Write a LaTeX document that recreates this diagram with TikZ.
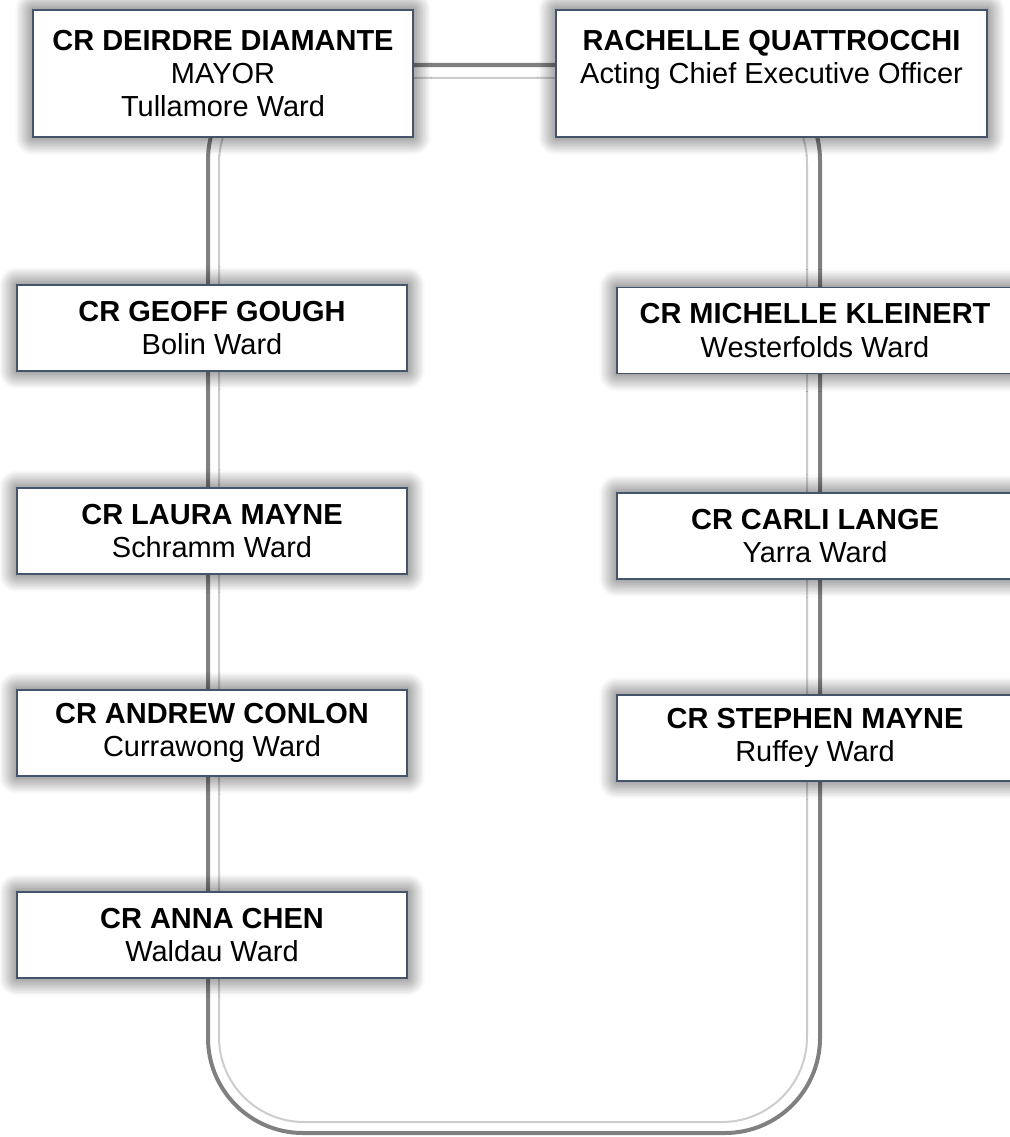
\documentclass[tikz,border=0pt]{standalone}
\usepackage{fontspec}
\setmainfont{Liberation Sans}
\usetikzlibrary{shadows.blur}
\definecolor{boxline}{RGB}{68,84,106}
\definecolor{tubedark}{RGB}{128,128,128}
\definecolor{tubelight}{RGB}{205,205,205}
\tikzset{
    leadnode/.style = {rectangle, draw=boxline, line width=0.035cm, fill=white, align=center, inner sep=0, minimum height=3.175cm, font=\fontsize{20.6}{23.6}\selectfont, blur shadow={shadow xshift=0pt, shadow yshift=0pt, shadow blur radius=0.45cm, shadow opacity=75, shadow blur steps=12}},
    wardnodel/.style = {leadnode, minimum width=9.75cm, minimum height=2.15cm},
    wardnoder/.style = {leadnode, minimum width=9.9cm, minimum height=2.15cm},
    tubeo/.style = {draw=tubedark, line width=0.1cm, rounded corners=2.375cm}, % outer line
    tubei/.style = {draw=tubelight, line width=0.05cm, rounded corners=2.125cm}, % inner line
}

\begin{document}
\begin{tikzpicture}[x=0.025cm, y=-0.025cm]
\useasboundingbox (0,0) rectangle (1009,1137);

\coordinate (looptl) at (208,  65);
\coordinate (loopbr) at (820,1133);
\coordinate (innertl) at (219,  78);
\coordinate (innerbr) at (807,1122);

\draw[tubeo] (looptl) rectangle (loopbr);
\draw[tubei] (innertl) rectangle (innerbr);

\node[leadnode, minimum width=9.5cm] at (223.0,  73.5) (mayor) {\textbf{CR DEIRDRE DIAMANTE}\\MAYOR\\Tullamore Ward};
\node[leadnode, minimum width=10.775cm] at (771.5,  73.5) (ceo) {\textbf{RACHELLE QUATTROCCHI}\\Acting Chief Executive Officer\\\phantom{Tullamore Ward}};

\node[wardnodel] at (212.0, 328.0) (gough) {\textbf{CR GEOFF GOUGH}\\Bolin Ward};
\node[wardnodel] at (212.0, 531.0) (lmayne) {\textbf{CR LAURA MAYNE}\\Schramm Ward};
\node[wardnodel] at (212.0, 733.0) (conlon) {\textbf{CR ANDREW CONLON}\\Currawong Ward};
\node[wardnodel] at (212.0, 935.0) (chen) {\textbf{CR ANNA CHEN}\\Waldau Ward};

\node[wardnoder] at (815.0, 330.5) (kleinert) {\textbf{CR MICHELLE KLEINERT}\\Westerfolds Ward};
\node[wardnoder] at (815.0, 536.0) (lange) {\textbf{CR CARLI LANGE}\\Yarra Ward};
\node[wardnoder] at (815.0, 738.0) (smayne) {\textbf{CR STEPHEN MAYNE}\\Ruffey Ward};

\end{tikzpicture}
\end{document}
